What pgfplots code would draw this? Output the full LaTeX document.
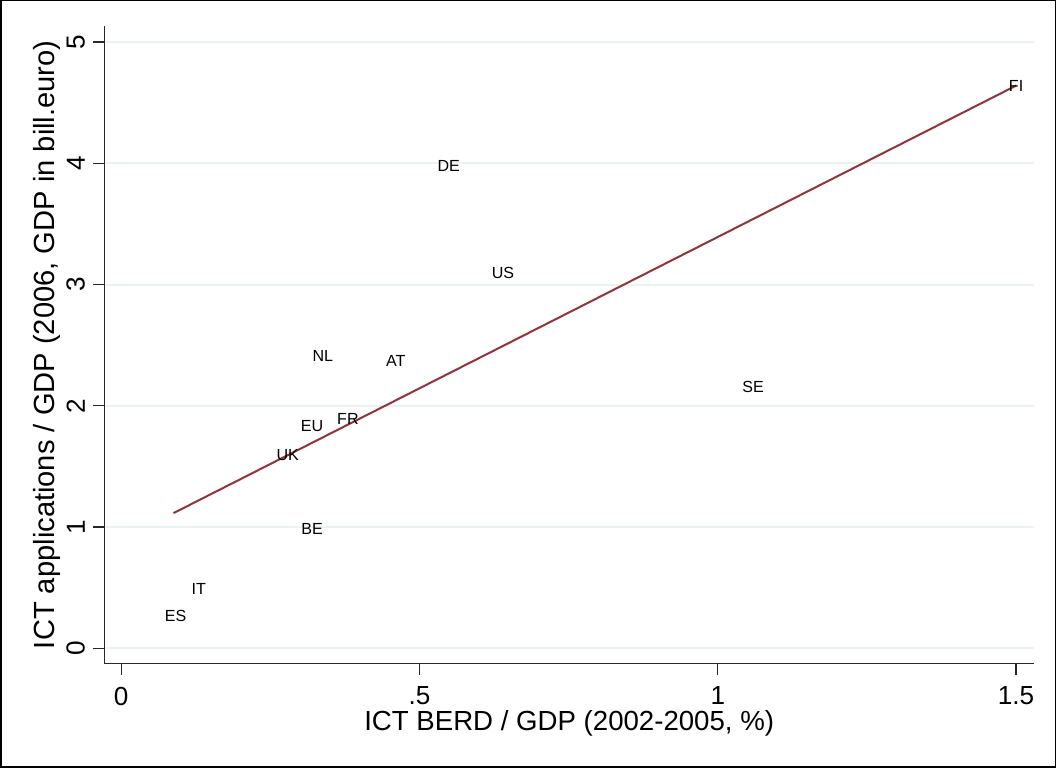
\documentclass[border=0pt]{standalone}
\usepackage{pgfplots}
\pgfplotsset{compat=1.18}
\usepackage{fontspec}
\setmainfont{Liberation Sans}
\definecolor{fitline}{RGB}{144,53,59}
\definecolor{gridc}{RGB}{234,242,243}
\definecolor{axc}{RGB}{40,40,40}
\begin{document}
\begin{tikzpicture}
\fill[white] (-103bp,-103bp) rectangle (947bp,660bp);
\begin{axis}[
  scale only axis,
  width=926bp, height=635bp,
  xmin=-0.0286, xmax=1.5303,
  ymin=-0.127, ymax=5.134,
  axis x line*=bottom, axis y line*=left,
  axis line style={axc, line width=1.2bp, -},
  xtick={0,0.5,1,1.5}, xticklabels={0,.5,1,1.5},
  ytick={0,1,2,3,4,5},
  tick align=outside, major tick length=11bp,
  tick style={axc, line width=1.2bp},
  ymajorgrids, grid style={gridc, line width=2bp},
  /pgf/number format/assume math mode=true,
  ticklabel style={font=\fontsize{26bp}{30bp}\selectfont},
  yticklabel style={rotate=90, anchor=south, inner sep=0pt},
  yticklabel shift=8bp,
  xticklabel style={anchor=north, inner sep=0pt},
  xticklabel shift=12bp,
  xlabel={ICT BERD / GDP (2002-2005, \%)},
  ylabel={ICT applications / GDP (2006, GDP in bill.euro)},
  xlabel style={font=\fontsize{27.5bp}{32bp}\selectfont, at={(axis description cs:0.5,0)}, anchor=north, yshift=-47bp, inner sep=0pt},
  ylabel style={font=\fontsize{29bp}{34bp}\selectfont, at={(axis description cs:0,0.5)}, anchor=south, yshift=43bp, inner sep=0pt},
  clip=false,
]
\addplot[draw=none, mark=none, nodes near coords, point meta=explicit symbolic,
  nodes near coords style={anchor=center, inner sep=0pt, yshift=-2bp, font=\fontsize{16bp}{19bp}\selectfont, text=black}]
  table[meta=lab] {
x y lab
0.549 3.991 DE
0.640 3.113 US
0.338 2.425 NL
0.460 2.385 AT
1.059 2.169 SE
0.380 1.911 FR
0.320 1.845 EU
0.279 1.612 UK
0.320 0.999 BE
0.130 0.503 IT
0.091 0.279 ES
1.500 4.653 FI
};
\addplot[fitline, line width=2bp, mark=none] coordinates {(0.0875,1.114) (1.500,4.641)};
\end{axis}
\draw[black, line width=1.5bp] (-103bp,-103bp) rectangle (947bp,660bp);
\end{tikzpicture}
\end{document}
